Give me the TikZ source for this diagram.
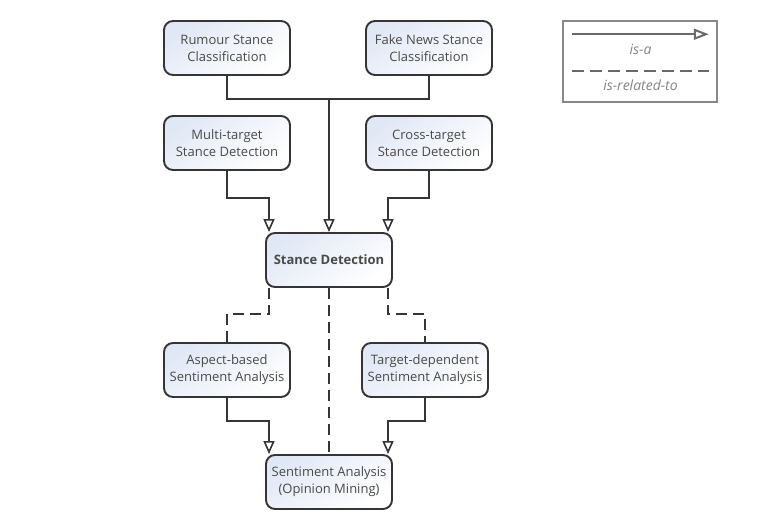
\documentclass[tikz,border=0pt]{standalone}
\usepackage{fontspec}
\setmainfont{Open Sans}
\usetikzlibrary{arrows.meta,positioning,calc}

\definecolor{boxline}{HTML}{353535}
\definecolor{boxtext}{HTML}{4A4A4A}
\definecolor{boxshade}{HTML}{E1E8F5}
\definecolor{legendline}{HTML}{6A6A6A}
\definecolor{legendtext}{HTML}{858585}

\begin{document}
\begin{tikzpicture}[x=1pt,y=-1pt,>={Triangle[open,length=13pt,width=11pt]},
	line width=1.6pt,draw=boxline]
	\tikzstyle{taskbox}=[draw=boxline,line width=1.9pt,rounded corners=9pt,
		top color=boxshade,bottom color=white,shading angle=35,
		text=boxtext,align=center,font=\fontsize{13}{17}\selectfont,
		minimum width=126pt,minimum height=54pt,inner sep=2pt]
	\tikzstyle{related}=[dashed,dash pattern=on 11pt off 6pt]
	\tikzstyle{legendlabel}=[text=legendtext,font=\fontsize{14}{16}\selectfont\itshape]
	\useasboundingbox (0,0) rectangle (761,514);
	
	\node[taskbox] (rumour)    at (227,48)  {Rumour Stance\\Classification};
	\node[taskbox] (fakenews)  at (429,48)  {Fake News Stance\\Classification};
	\node[taskbox] (multi)     at (227,143) {Multi-target\\Stance Detection};
	\node[taskbox] (cross)     at (429,143) {Cross-target\\Stance Detection};
	\node[taskbox,font=\fontsize{13}{17}\selectfont\bfseries]
		(stance) at (329,260) {Stance Detection};
	\node[taskbox] (aspect)    at (227,370) {Aspect-based\\Sentiment Analysis};
	\node[taskbox] (target)    at (425,370) {Target-dependent\\Sentiment Analysis};
	\node[taskbox] (sentiment) at (329,482) {Sentiment Analysis\\(Opinion Mining)};
	
	% is-a links
	\coordinate (hub) at (329,99);
	\draw (rumour.south) |- (hub) -| (fakenews.south);
	\draw[->] (hub) -- (stance.north);
	\draw[->] (multi.south) -- ++(0,27) -| ([xshift=-60pt]stance.north);
	\draw[->] (cross.south) -- ++(0,27) -| ([xshift=59pt]stance.north);
	\draw[->] (aspect.south) -- ++(0,23) -| ([xshift=-60pt]sentiment.north);
	\draw[->] (target.south) -- ++(0,23) -| ([xshift=59pt]sentiment.north);
	
	% is-related-to links
	\draw[related] ([xshift=-60pt]stance.south) -- ++(0,26) -| (aspect.north);
	\draw[related] ([xshift=59pt]stance.south) -- ++(0,26) -| (target.north);
	\draw[related] (stance.south) -- (sentiment.north);
	
	% legend
	\node (legend) [draw=legendline!80,line width=1.5pt,minimum width=154pt,
		minimum height=81pt] at (640,61.5) {};
	\coordinate (isa a) at ([xshift=10pt,yshift=-14pt]legend.north west);
	\coordinate (isa b) at ([xshift=-9pt,yshift=-14pt]legend.north east);
	\coordinate (rel a) at ([xshift=10pt,yshift=-51pt]legend.north west);
	\coordinate (rel b) at ([xshift=-9pt,yshift=-51pt]legend.north east);
	\draw[->,draw=legendline,line width=2pt,>={Triangle[open,length=15pt,width=11pt]}]
		(isa a) -- (isa b);
	\draw[related,draw=legendline,line width=2.2pt,dash pattern=on 12pt off 6pt]
		(rel a) -- (rel b);
	\node[legendlabel,below=6pt] (isa label) at ($(isa a)!0.5!(isa b)$) {is-a};
	\node[legendlabel,below=4pt] (rel label) at ($(rel a)!0.5!(rel b)$) {is-related-to};
\end{tikzpicture}
\end{document}
